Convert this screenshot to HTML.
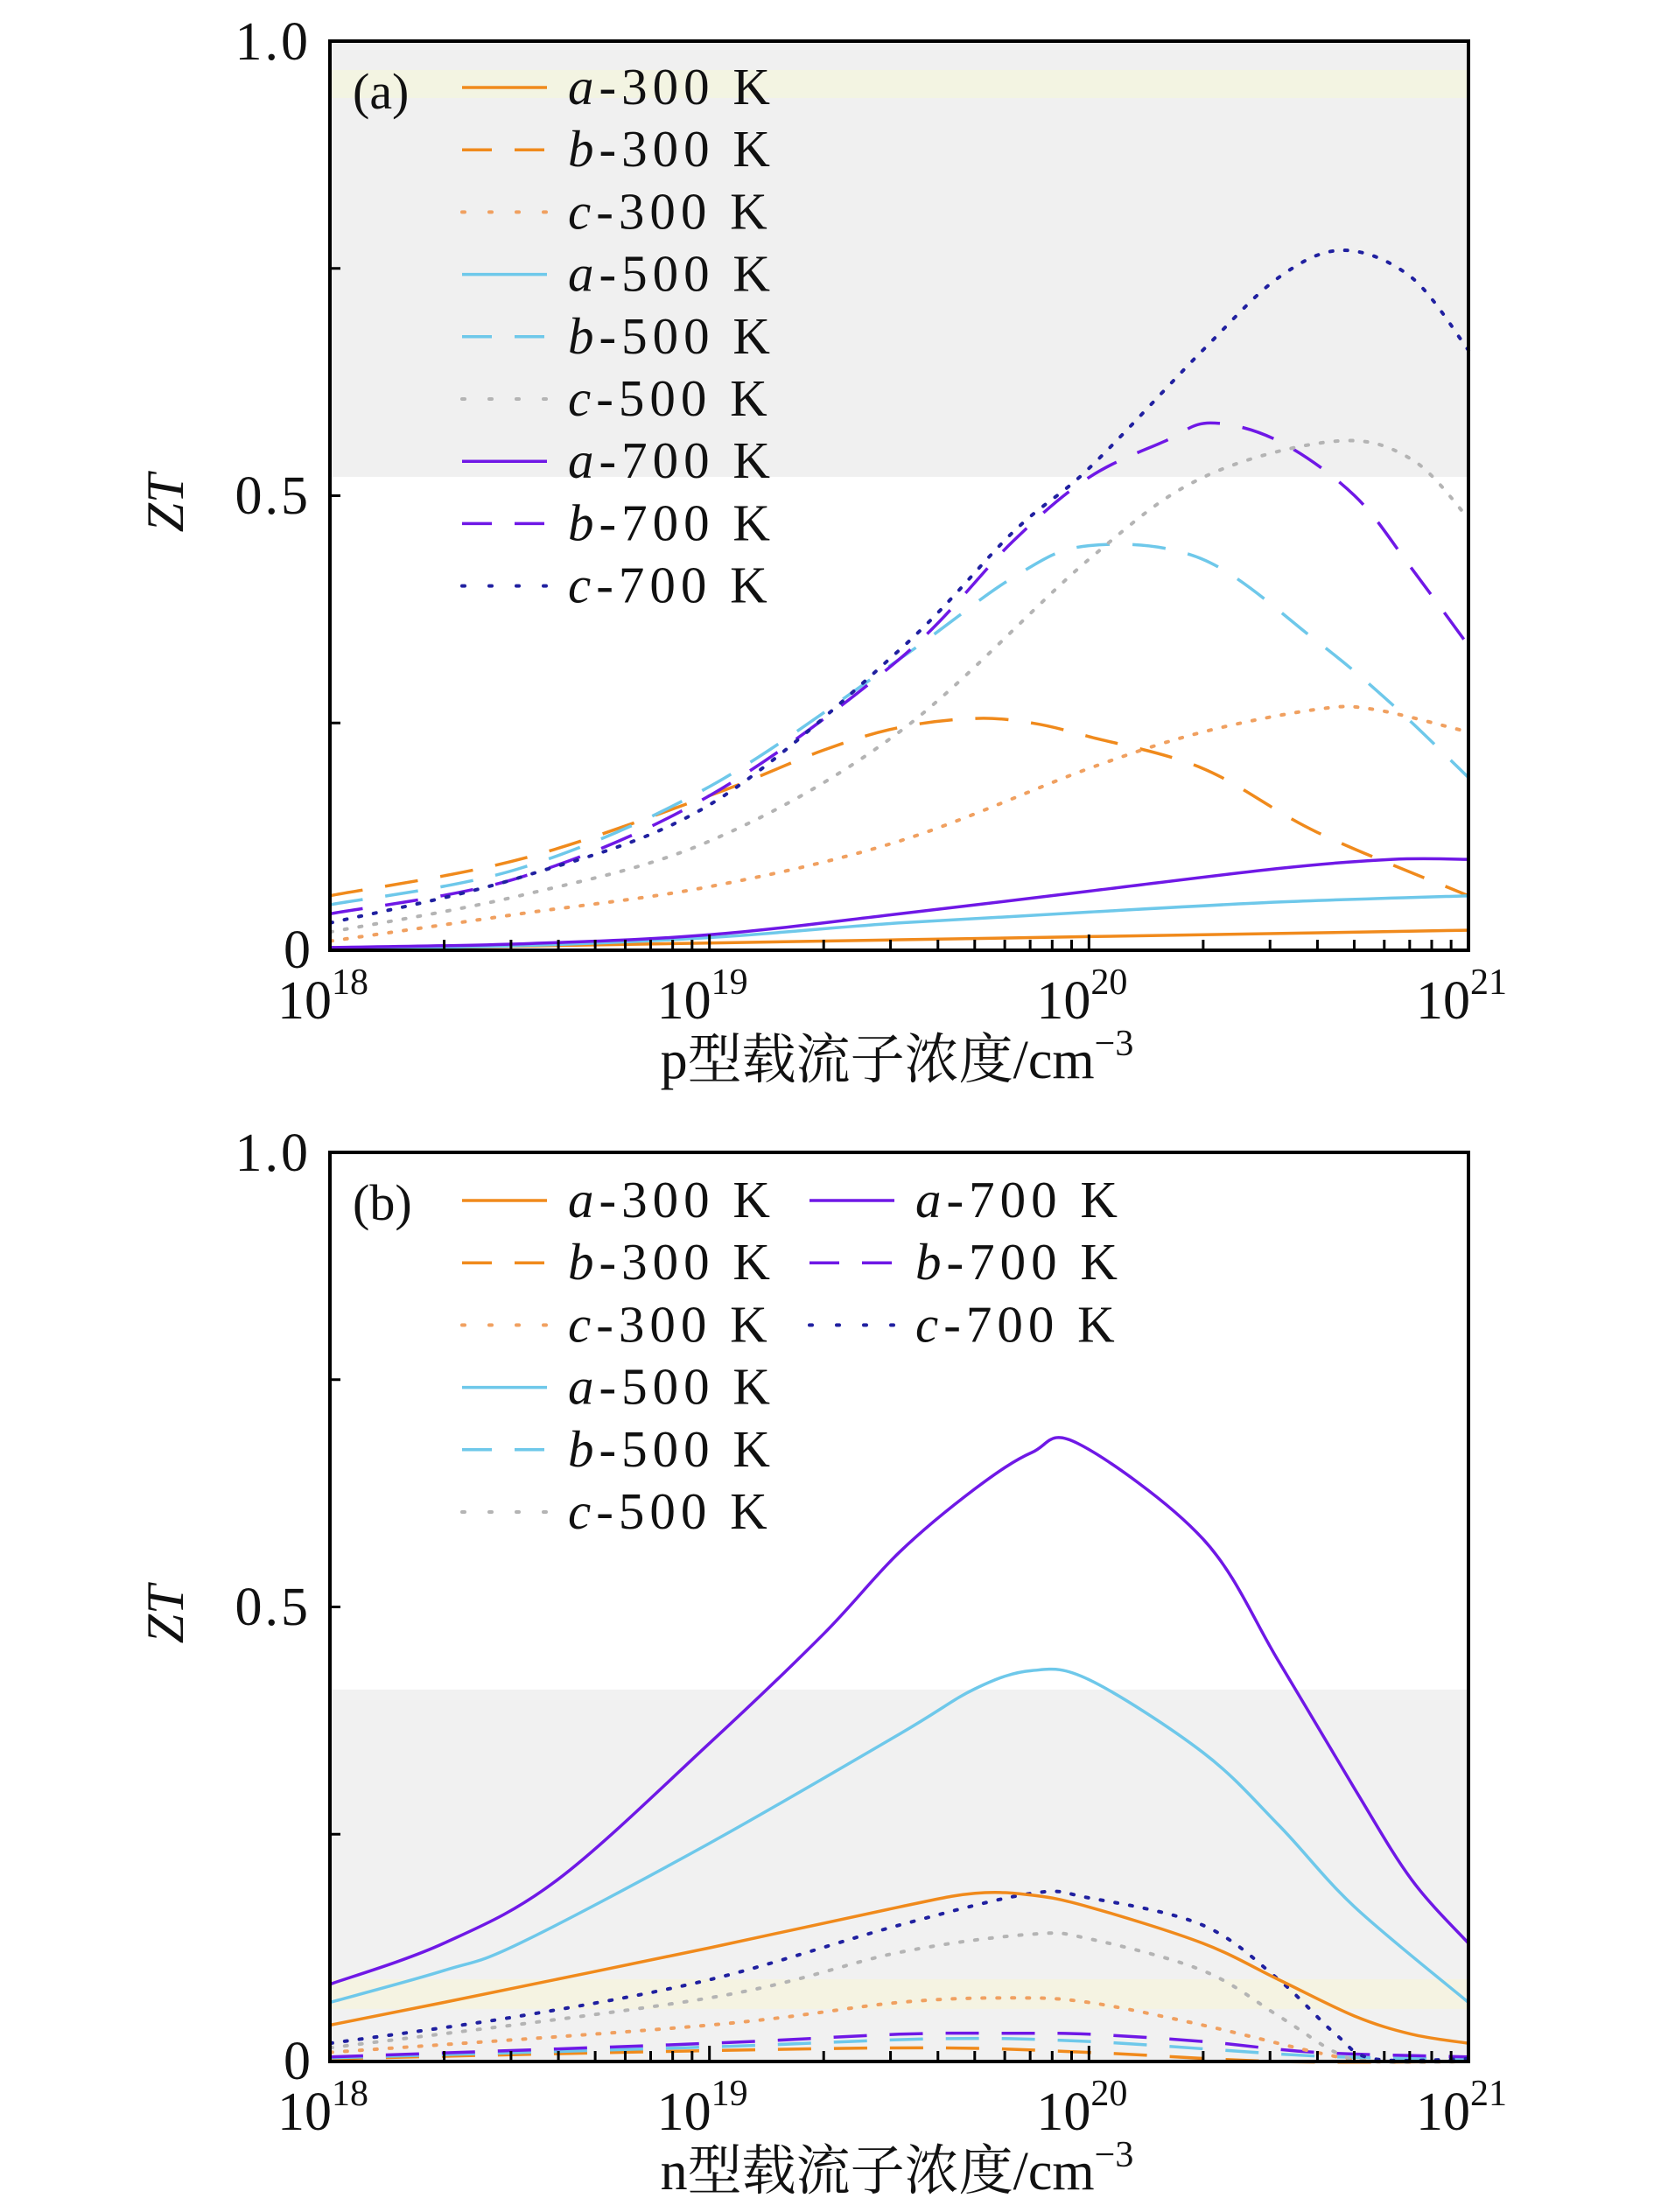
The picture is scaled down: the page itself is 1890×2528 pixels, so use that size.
<!DOCTYPE html>
<html><head><meta charset="utf-8">
<style>
html,body{margin:0;padding:0;background:#fff;}
svg{display:block;}
text{font-family:"Liberation Serif","Noto Serif CJK SC",serif;fill:#111;}
</style></head>
<body>
<svg id="s" width="1890" height="2528" viewBox="0 0 1890 2528" xmlns="http://www.w3.org/2000/svg">
<rect x="377" y="47" width="1301" height="498" fill="#f0f0f0"/>
<rect x="377" y="80" width="1301" height="32" fill="#f3f4e2"/>
<rect x="377" y="1931" width="1301" height="425" fill="#f1f1f1"/>
<rect x="377" y="2262" width="1301" height="34" fill="#f5f3e2"/>
<g id="curves"></g>
<g id="axes"></g>
<text x="355" y="68" font-size="62" letter-spacing="3" text-anchor="end">1.0</text>
<text x="355" y="587" font-size="62" letter-spacing="3" text-anchor="end">0.5</text>
<text x="355" y="1106" font-size="62" text-anchor="end">0</text>
<text x="355" y="1338" font-size="62" letter-spacing="3" text-anchor="end">1.0</text>
<text x="355" y="1857" font-size="62" letter-spacing="3" text-anchor="end">0.5</text>
<text x="355" y="2376" font-size="62" text-anchor="end">0</text>
<text transform="translate(209,575) rotate(-90)" font-size="60" font-style="italic" text-anchor="middle">ZT</text>
<text transform="translate(209,1845) rotate(-90)" font-size="60" font-style="italic" text-anchor="middle">ZT</text>
<text x="1025" y="1232" font-size="62" text-anchor="middle">p型载流子浓度/cm<tspan font-size="42" dy="-26">−3</tspan></text>
<text x="1025" y="2502" font-size="62" text-anchor="middle">n型载流子浓度/cm<tspan font-size="42" dy="-26">−3</tspan></text>
<text x="403" y="124" font-size="58">(a)</text>
<text x="403" y="1394" font-size="58">(b)</text>
</svg>
<script>
var NS="http://www.w3.org/2000/svg";
var L=377,W=1301,H=1039;
function X(d){return L+(d-18)*W/3;}
function mk(tag,attrs,parent){var e=document.createElementNS(NS,tag);for(var k in attrs)e.setAttribute(k,attrs[k]);parent.appendChild(e);return e;}
var C={o:"#f08a1c",lb:"#6ec8ea",p:"#6f18e6",op:"#f0a060",gr:"#b4b4b4",nv:"#2020a0"};
var styles={s:"",d:"38 26",t:"3 14"};
function path(pts,bot){
  var P=pts.map(function(p){return [X(p[0]),bot-p[1]*H];});
  var s="M"+P[0][0].toFixed(1)+","+P[0][1].toFixed(1);
  for(var i=0;i<P.length-1;i++){
    var p0=P[Math.max(0,i-1)],p1=P[i],p2=P[i+1],p3=P[Math.min(P.length-1,i+2)];
    var c1=[p1[0]+(p2[0]-p0[0])/6,p1[1]+(p2[1]-p0[1])/6];
    var c2=[p2[0]-(p3[0]-p1[0])/6,p2[1]-(p3[1]-p1[1])/6];
    s+="C"+c1.map(function(v){return v.toFixed(1)}).join(",")+" "+c2.map(function(v){return v.toFixed(1)}).join(",")+" "+p2[0].toFixed(1)+","+p2[1].toFixed(1);
  }
  return s;
}
var g=document.getElementById("curves");
function draw(pts,col,st,bot){
  var a={d:path(pts,bot),fill:"none",stroke:col,"stroke-width":st=="t"?4:3.5};
  if(st!="s"){a["stroke-dasharray"]=styles[st];}
  if(st=="t")a["stroke-linecap"]="round";
  mk("path",a,g);
}
var A=1086,B=2356;
draw([[18,0.06],[18.5,0.1],[19,0.17],[19.3,0.22],[19.5,0.245],[19.7,0.255],[19.85,0.25],[20,0.235],[20.3,0.2],[20.6,0.13],[21,0.06]],C.o,"d",A);
draw([[18,0.05],[18.5,0.09],[19,0.18],[19.5,0.32],[19.8,0.41],[20,0.445],[20.3,0.43],[20.6,0.34],[20.8,0.27],[21,0.19]],C.lb,"d",A);
draw([[18,0.04],[18.5,0.08],[19,0.17],[19.5,0.32],[19.8,0.45],[20,0.52],[20.2,0.56],[20.32,0.58],[20.5,0.56],[20.7,0.5],[20.85,0.42],[21,0.335]],C.p,"d",A);
draw([[18,0.01],[18.5,0.04],[19,0.07],[19.5,0.12],[20,0.2],[20.3,0.24],[20.6,0.265],[20.75,0.265],[21,0.24]],C.op,"t",A);
draw([[18,0.02],[18.5,0.06],[19,0.12],[19.5,0.24],[20,0.43],[20.3,0.52],[20.65,0.56],[20.85,0.54],[21,0.475]],C.gr,"t",A);
draw([[18,0.03],[18.5,0.08],[19,0.16],[19.5,0.33],[19.8,0.46],[20,0.53],[20.3,0.66],[20.5,0.74],[20.67,0.77],[20.85,0.74],[21,0.66]],C.nv,"t",A);
draw([[18,0.001],[19,0.008],[20,0.015],[21,0.022]],C.o,"s",A);
draw([[18,0.002],[18.5,0.005],[19,0.014],[19.5,0.03],[20,0.042],[20.5,0.053],[21,0.06]],C.lb,"s",A);
draw([[18,0.003],[18.5,0.007],[19,0.017],[19.5,0.04],[20,0.065],[20.5,0.09],[20.8,0.1],[21,0.1]],C.p,"s",A);
draw([[18,0.003],[19,0.012],[19.6,0.015],[20,0.01],[20.5,0.0],[21,0.0]],C.o,"d",B);
draw([[18,0.004],[19,0.016],[19.6,0.025],[20,0.022],[20.6,0.006],[21,0.003]],C.lb,"d",B);
draw([[18,0.005],[19,0.02],[19.5,0.03],[19.8,0.031],[20,0.03],[20.3,0.022],[20.6,0.01],[21,0.005]],C.p,"d",B);
draw([[18,0.01],[19,0.04],[19.5,0.065],[19.8,0.07],[20,0.065],[20.3,0.04],[20.6,0.01],[20.75,0],[21,0]],C.op,"t",B);
draw([[18,0.015],[19,0.07],[19.5,0.12],[19.85,0.14],[20,0.135],[20.3,0.1],[20.5,0.05],[20.65,0.01],[20.75,0],[21,0]],C.gr,"t",B);
draw([[18,0.02],[18.5,0.05],[19,0.09],[19.5,0.15],[19.85,0.185],[20,0.18],[20.3,0.15],[20.5,0.09],[20.65,0.03],[20.75,0.003],[21,0.003]],C.nv,"t",B);
draw([[18,0.04],[18.3,0.065],[19,0.125],[19.5,0.17],[19.7,0.185],[19.85,0.183],[20,0.17],[20.3,0.13],[20.5,0.09],[20.7,0.05],[20.85,0.03],[21,0.02]],C.o,"s",B);
draw([[18,0.065],[18.3,0.1],[18.5,0.13],[19,0.24],[19.5,0.36],[19.7,0.41],[19.85,0.43],[20,0.42],[20.3,0.34],[20.5,0.26],[20.7,0.17],[21,0.065]],C.lb,"s",B);
draw([[18,0.085],[18.3,0.13],[18.6,0.2],[19,0.35],[19.3,0.47],[19.5,0.56],[19.7,0.63],[19.85,0.67],[19.97,0.68],[20.3,0.575],[20.5,0.44],[20.7,0.3],[20.85,0.2],[21,0.13]],C.p,"s",B);
function leg(x,y,col,st,lab){
  var a={x1:x,y1:y,x2:x+97,y2:y,stroke:col,"stroke-width":3.5};
  if(st!="s")a["stroke-dasharray"]=st=="d"?"34 26":"3 28";
  if(st=="t"){a["stroke-linecap"]="round";a["stroke-width"]=4;}
  mk("line",a,g);
  var t=mk("text",{x:x+121,y:y+19,"font-size":59,"letter-spacing":"6"},g);
  var i=mk("tspan",{"font-style":"italic"},t);i.textContent=lab[0];
  var r=mk("tspan",{},t);r.textContent=lab.slice(1);
}
var labs=[["a-300 K",C.o,"s"],["b-300 K",C.o,"d"],["c-300 K",C.op,"t"],["a-500 K",C.lb,"s"],["b-500 K",C.lb,"d"],["c-500 K",C.gr,"t"],["a-700 K",C.p,"s"],["b-700 K",C.p,"d"],["c-700 K",C.nv,"t"]];
for(var i=0;i<9;i++)leg(528,100+i*71.2,labs[i][1],labs[i][2],labs[i][0]);
for(var i=0;i<6;i++)leg(528,1372+i*71.2,labs[i][1],labs[i][2],labs[i][0]);
for(var i=6;i<9;i++)leg(925,1372+(i-6)*71.2,labs[i][1],labs[i][2],labs[i][0]);
var ax=document.getElementById("axes");
[[47,1086],[1317,2356]].forEach(function(p){
  var t=p[0],b=p[1];
  mk("rect",{x:L,y:t,width:W,height:b-t,fill:"none",stroke:"#000","stroke-width":4},ax);
  for(var k=0;k<=4;k++){var y=b-k*(b-t)/4;mk("line",{x1:L,y1:y,x2:L+12,y2:y,stroke:"#000","stroke-width":3},ax);}
  for(var d=18;d<21;d++){for(var m=1;m<=9;m++){var x=X(d+Math.log10(m));var len=m==1?18:12;mk("line",{x1:x,y1:b,x2:x,y2:b-len,stroke:"#000","stroke-width":3},ax);}}
  for(var d=18;d<=21;d++){
    var tt=mk("text",{x:X(d)-8,y:b+78,"font-size":62,"text-anchor":"middle"},ax);
    tt.textContent="10";
    var sp=mk("tspan",{"font-size":42,dy:"-28"},tt);sp.textContent=String(d);
  }
});
</script>
</body></html>
